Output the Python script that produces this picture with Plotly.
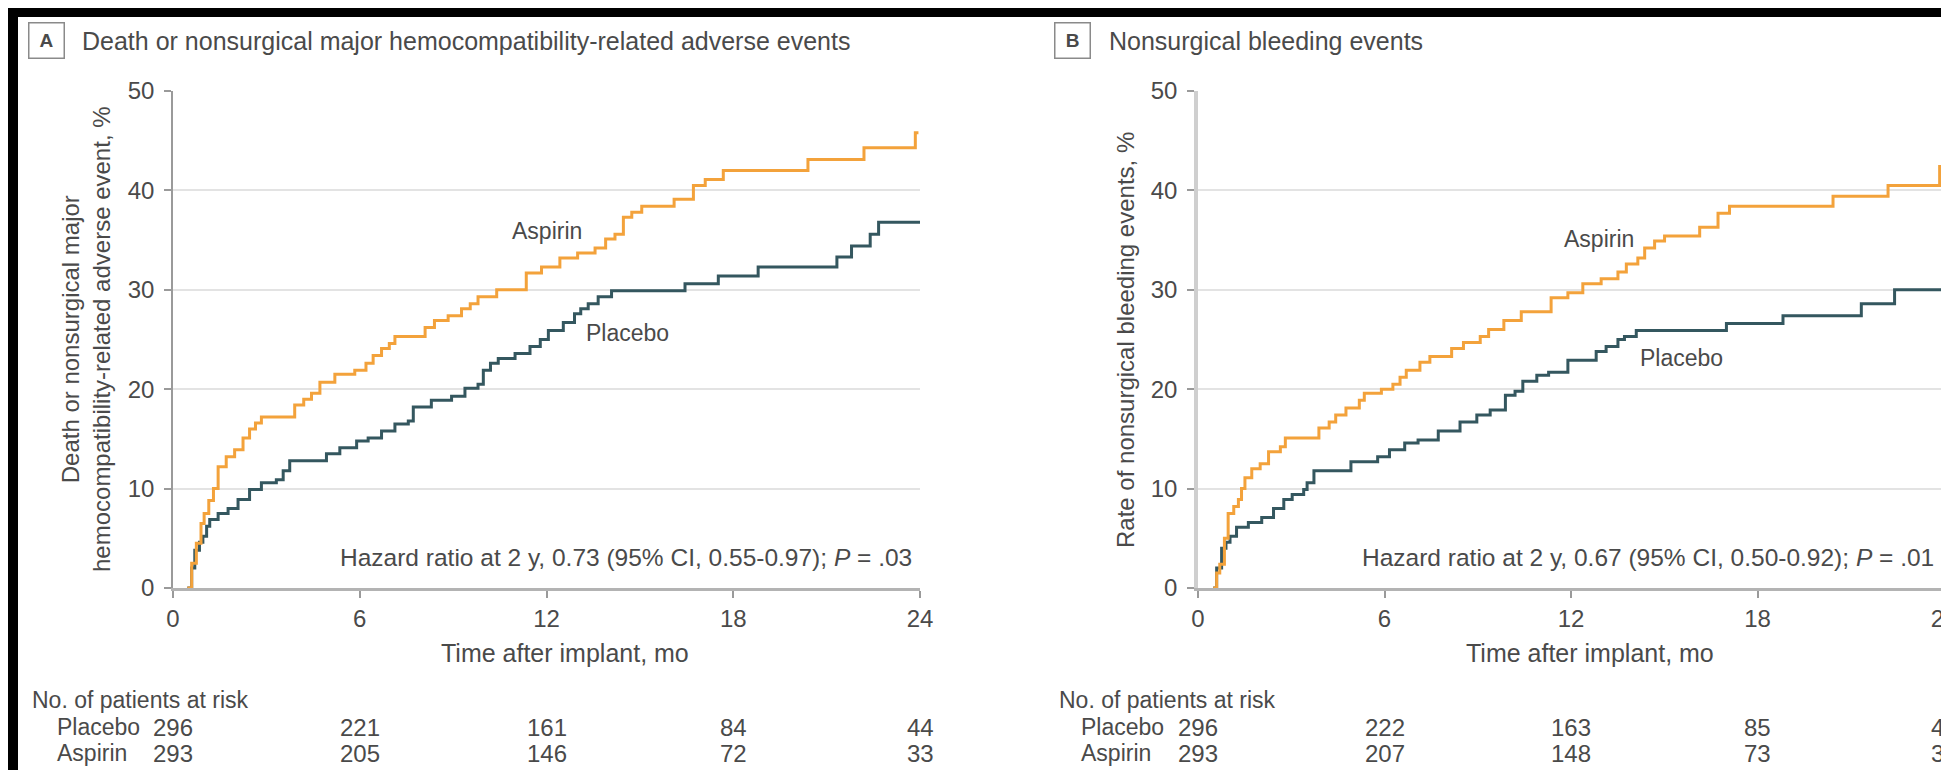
import plotly.graph_objects as go

W, H = 1949, 770

# ---------------- data ----------------
months_ticks = [0, 6, 12, 18, 24]
pct_ticks = [0, 10, 20, 30, 40, 50]

a_aspirin_t = [0.46, 0.6, 0.75, 0.9, 1.0, 1.15, 1.3, 1.45, 1.71, 1.98, 2.25, 2.46, 2.65, 2.84, 3.91, 4.2, 4.45, 4.72,
               5.2, 5.84, 6.2, 6.43, 6.7, 6.95, 7.13, 8.1, 8.4, 8.84, 9.27, 9.55, 9.8, 10.4, 11.35, 11.84, 12.43,
               13.0, 13.56, 13.9, 14.2, 14.47, 14.74, 15.06, 16.1, 16.72, 17.1, 17.68, 20.4, 22.2, 23.85, 23.95]
a_aspirin_v = [0, 2.5, 4.5, 6.5, 7.5, 8.8, 10, 12.2, 13.2, 13.9, 15.1, 16, 16.6, 17.2, 18.4, 19.0, 19.6, 20.7,
               21.5, 21.9, 22.6, 23.4, 24.1, 24.6, 25.3, 26.2, 26.9, 27.4, 28.1, 28.6, 29.3, 30.0, 31.7, 32.3, 33.2,
               33.7, 34.2, 35.1, 35.6, 37.3, 37.8, 38.4, 39.1, 40.5, 41.1, 42.0, 43.1, 44.3, 45.8, 45.8]

a_placebo_t = [0.46, 0.6, 0.7, 0.85, 0.96, 1.08, 1.18, 1.45, 1.77, 2.09, 2.46, 2.84, 3.32, 3.54, 3.75, 4.93, 5.36,
               5.9, 6.27, 6.7, 7.13, 7.56, 7.72, 8.3, 8.95, 9.38, 9.8, 9.97, 10.2, 10.45, 10.99, 11.47, 11.8, 12.06,
               12.54, 12.9, 13.1, 13.34, 13.66, 14.09, 16.45, 17.52, 18.8, 21.33, 21.8, 22.4, 22.67, 24.0]
a_placebo_v = [0, 2.0, 3.8, 4.6, 5.2, 6.2, 6.9, 7.5, 8.0, 8.9, 9.9, 10.6, 10.9, 11.8, 12.8, 13.5, 14.1,
               14.8, 15.1, 15.8, 16.5, 16.8, 18.2, 18.9, 19.3, 20.1, 20.5, 21.9, 22.6, 23.1, 23.6, 24.3, 25.0, 25.9,
               26.7, 27.6, 28.1, 28.6, 29.3, 29.9, 30.6, 31.4, 32.3, 33.3, 34.4, 35.6, 36.8, 36.8]

b_aspirin_t = [0.49, 0.6, 0.7, 0.85, 0.97, 1.15, 1.3, 1.4, 1.51, 1.73, 2.0, 2.27, 2.65, 2.81, 3.89, 4.22, 4.43, 4.76,
               5.19, 5.35, 5.9, 6.27, 6.5, 6.7, 7.14, 7.46, 8.16, 8.54, 9.08, 9.35, 9.84, 10.4, 11.36, 11.9, 12.38,
               12.97, 13.51, 13.78, 14.15, 14.37, 14.69, 15.01, 16.14, 16.73, 17.1, 20.43, 22.2, 23.86, 23.97]
b_aspirin_v = [0, 1.5, 2.4, 5.0, 7.5, 8.2, 8.9, 10.0, 11.1, 12.0, 12.5, 13.7, 14.2, 15.1, 16.1, 16.7, 17.4, 18.1,
               18.9, 19.6, 20.0, 20.5, 21.2, 21.9, 22.7, 23.3, 24.1, 24.7, 25.3, 26.0, 26.9, 27.8, 29.2, 29.7, 30.6,
               31.1, 31.8, 32.6, 33.2, 34.2, 34.9, 35.4, 36.3, 37.7, 38.4, 39.4, 40.5, 42.4, 42.4]

b_placebo_t = [0.49, 0.6, 0.76, 0.9, 1.03, 1.24, 1.62, 2.05, 2.43, 2.76, 3.03, 3.4, 3.51, 3.73, 4.92, 5.78, 6.16,
               6.65, 7.08, 7.73, 8.43, 8.97, 9.4, 9.89, 10.2, 10.45, 10.9, 11.28, 11.9, 12.81, 13.13, 13.51, 13.72,
               14.1, 17.0, 18.82, 21.34, 22.41, 24.0]
b_placebo_v = [0, 2.0, 4.0, 4.6, 5.2, 6.1, 6.6, 7.1, 8.0, 8.9, 9.4, 9.9, 10.6, 11.8, 12.7, 13.2, 13.9,
               14.6, 14.9, 15.8, 16.7, 17.4, 17.9, 19.4, 19.8, 20.8, 21.4, 21.7, 22.9, 23.8, 24.3, 25.0, 25.3,
               25.9, 26.6, 27.4, 28.6, 30.0, 30.0]

risk_times = [0, 6, 12, 18, 24]
a_risk_placebo = [296, 221, 161, 84, 44]
a_risk_aspirin = [293, 205, 146, 72, 33]
b_risk_placebo = [296, 222, 163, 85, 44]
b_risk_aspirin = [293, 207, 148, 73, 34]

panel_titles = ["Death or nonsurgical major hemocompatibility-related adverse events", "Nonsurgical bleeding events"]
panel_letters = ["A", "B"]
y_titles = ["Death or nonsurgical major<br>hemocompatibility-related adverse event, %",
            "Rate of nonsurgical bleeding events, %"]
x_title = "Time after implant, mo"
hr_texts = ["Hazard ratio at 2 y, 0.73 (95% CI, 0.55-0.97); <i>P</i> = .03",
            "Hazard ratio at 2 y, 0.67 (95% CI, 0.50-0.92); <i>P</i> = .01"]

# ---------------- style ----------------
ORANGE = "#F3A23B"
BLUE = "#34575F"
TXT = "#4a4a4a"
FONT = "Liberation Sans, Arial, sans-serif"

def px(x):
    return x / W

def py(y):
    return 1 - y / H

fig = go.Figure()

panels = [
    dict(xa="x", ya="y", asp=(a_aspirin_t, a_aspirin_v), pla=(a_placebo_t, a_placebo_v)),
    dict(xa="x2", ya="y2", asp=(b_aspirin_t, b_aspirin_v), pla=(b_placebo_t, b_placebo_v)),
]
for p in panels:
    fig.add_trace(go.Scatter(x=p["pla"][0], y=p["pla"][1], mode="lines", line=dict(color=BLUE, width=3, shape="hv"),
                             xaxis=p["xa"], yaxis=p["ya"], showlegend=False, hoverinfo="skip"))
    fig.add_trace(go.Scatter(x=p["asp"][0], y=p["asp"][1], mode="lines", line=dict(color=ORANGE, width=3, shape="hv"),
                             xaxis=p["xa"], yaxis=p["ya"], showlegend=False, hoverinfo="skip"))

ydom = [py(580), py(83)]
xdomA = [px(165), px(912)]
xdomB = [px(1190), px(1936)]

common_x = dict(range=[0, 24], tickmode="array", tickvals=months_ticks, ticks="outside", ticklen=7, tickwidth=1.5,
                tickcolor="#9a9a9a", showline=True, linecolor="#b3b3b3", linewidth=2.5, showgrid=False,
                zeroline=False, tickfont=dict(family=FONT, size=24, color=TXT), ticklabelstandoff=0,
                ticklabeloverflow="allow")
common_y = dict(range=[0, 50], tickmode="array", tickvals=pct_ticks, ticks="outside", ticklen=7, tickwidth=1.5,
                tickcolor="#9a9a9a", showline=True, showgrid=True, gridcolor="#e3e3e3", gridwidth=1.5,
                zeroline=False, tickfont=dict(family=FONT, size=24, color=TXT), ticklabelstandoff=5)

fig.update_layout(
    width=W, height=H, margin=dict(l=0, r=0, t=0, b=0),
    paper_bgcolor="white", plot_bgcolor="white", template="none",
    xaxis=dict(domain=xdomA, anchor="y", **common_x),
    yaxis=dict(domain=ydom, anchor="x", linecolor="#9a9a9a", linewidth=1.5, **common_y),
    xaxis2=dict(domain=xdomB, anchor="y2", **common_x),
    yaxis2=dict(domain=ydom, anchor="x2", linecolor="#cfcfcf", linewidth=3.5, **common_y),
)

ann = []
def T(text, x, y, xref="paper", yref="paper", xanchor="center", yanchor="middle", size=23, **kw):
    ann.append(dict(text=text, x=x, y=y, xref=xref, yref=yref, xanchor=xanchor, yanchor=yanchor, showarrow=False,
                    font=dict(family=FONT, size=size, color=TXT), **kw))

# headers
for letter, title, bx, tx in [(panel_letters[0], panel_titles[0], 38, 72), (panel_letters[1], panel_titles[1], 1064, 1099)]:
    T("<b>%s</b>" % letter, px(bx), py(33), size=19, bordercolor="#8a8a8a", borderwidth=1.5, borderpad=0,
      width=34, height=34)
    T(title, px(tx), py(33), xanchor="left", size=25)

# y titles
T(y_titles[0], px(78), py(331), textangle=-90, size=24)
T(y_titles[1], px(1118), py(332), textangle=-90, size=24)

# x titles
T(x_title, px(557), py(645), size=25)
T(x_title, px(1582), py(645), size=25)

# hazard ratio
T(hr_texts[0], 23.8, 3.1, xref="x", yref="y", xanchor="right", size=24.5)
T(hr_texts[1], 23.75, 3.1, xref="x2", yref="y2", xanchor="right", size=24.5)

# curve labels
T("Aspirin", 12.0, 35.9, xref="x", yref="y")
T("Placebo", 14.6, 25.7, xref="x", yref="y")
T("Aspirin", 12.9, 35.1, xref="x2", yref="y2")
T("Placebo", 15.57, 23.1, xref="x2", yref="y2")

# risk tables
for xr, lx, hx, rp, ra in [("x", 47, 22, a_risk_placebo, a_risk_aspirin), ("x2", 1071, 1049, b_risk_placebo, b_risk_aspirin)]:
    T("No. of patients at risk", px(hx), py(692), xanchor="left")
    T("Placebo", px(lx), py(719), xanchor="left")
    T("Aspirin", px(lx), py(745), xanchor="left")
    for t, vp, va in zip(risk_times, rp, ra):
        T(str(vp), t, py(719), xref=xr, size=24)
        T(str(va), t, py(745), xref=xr, size=24)

fig.update_layout(annotations=ann)

# black frame (top, left, bottom)
shapes = [
    dict(type="rect", xref="paper", yref="paper", x0=0, x1=1, y0=py(9), y1=1, fillcolor="black", line_width=0),
    dict(type="rect", xref="paper", yref="paper", x0=0, x1=px(10), y0=0, y1=1, fillcolor="black", line_width=0),
    dict(type="rect", xref="paper", yref="paper", x0=0, x1=1, y0=0, y1=py(762), fillcolor="black", line_width=0),
]
fig.update_layout(shapes=shapes)

fig.write_html("out.html")
